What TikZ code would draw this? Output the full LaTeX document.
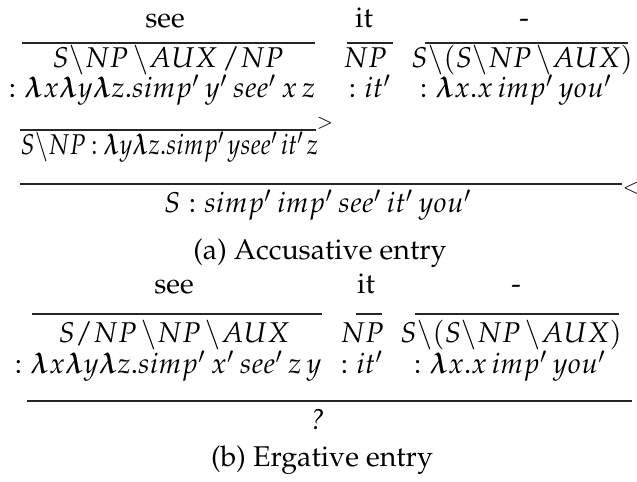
\documentclass[tikz,border=0pt]{standalone}
\usepackage[T1]{fontenc}
\usepackage{mathpazo}
\usepackage{bm}
\begin{document}
\begin{tikzpicture}[x=0.35pt,y=-0.35pt,
  txt/.style={inner sep=0pt, anchor=base, font=\normalsize},
  rulel/.style={line width=0.45pt, draw=black!85},
  comb/.style={inner sep=0pt, font=\scriptsize}]
\useasboundingbox (0,0) rectangle (637,482);
% ---------- (a) ----------
\node[txt] (aw1) at (165,28) {see};
\node[txt] (aw2) at (364,28) {it};
\node[txt] (aw3) at (524,28) {-};
\coordinate (a1l) at (22,43); \coordinate (a1r) at (315,43);
\coordinate (a2l) at (347,43); \coordinate (a2r) at (393,43);
\coordinate (a3l) at (425,43); \coordinate (a3r) at (628,43);
\draw[rulel] (a1l) -- (a1r); \draw[rulel] (a2l) -- (a2r); \draw[rulel] (a3l) -- (a3r);
\node[txt] (ac1) at (168,68) {$S\backslash NP\,\backslash AUX\,/NP$};
\node[txt] (ac2) at (365,68) {$NP$};
\node[txt] (ac3) at (522,68) {$S\backslash(S\backslash NP\,\backslash AUX)$};
\node[txt] (as1) at (162,98) {$:\bm{\lambda} x\bm{\lambda} y\bm{\lambda} z.simp'\,y'\,see'\,x\,z$};
\node[txt] (as2) at (370,98) {$:it'$};
\node[txt] (as3) at (516,98) {$:\bm{\lambda} x.x\,imp'\,you'$};
\coordinate (a4l) at (20,130); \coordinate (a4r) at (316,130);
\draw[rulel] (a4l) -- (a4r);
\node[comb, anchor=south west] (agt) at (a4r) {$>$};
\node[txt, anchor=base west, transform shape, xscale=0.86] (ar1) at (20,155) {$S\backslash NP\mskip 4mu{:}\mskip 4mu\bm{\lambda} y\bm{\lambda} z.simp'\mskip2mu y see'\mskip2mu it'\mskip2mu z$};
\coordinate (a5l) at (20,184); \coordinate (a5r) at (622,184);
\draw[rulel] (a5l) -- (a5r);
\node[comb, anchor=west] (alt) at ([yshift=-1.5pt]a5r) {$<$};
\node[txt] (ar2) at (318,213) {$S : simp'\,imp'\,see'\,it'\,you'$};
\node[txt] (capa) at (320,260) {(a) Accusative entry};
% ---------- (b) ----------
\node[txt] (bw1) at (174,294) {see};
\node[txt] (bw2) at (366,294) {it};
\node[txt] (bw3) at (516,294) {-};
\coordinate (b1l) at (32,314); \coordinate (b1r) at (322,314);
\coordinate (b2l) at (356,314); \coordinate (b2r) at (382,314);
\coordinate (b3l) at (415,314); \coordinate (b3r) at (619,314);
\draw[rulel] (b1l) -- (b1r); \draw[rulel] (b2l) -- (b2r); \draw[rulel] (b3l) -- (b3r);
\node[txt] (bc1) at (174,343) {$S/NP\,\backslash NP\,\backslash AUX$};
\node[txt] (bc2) at (362,343) {$NP$};
\node[txt] (bc3) at (511,343) {$S\backslash(S\backslash NP\,\backslash AUX)$};
\node[txt] (bs1) at (168,374) {$:\bm{\lambda} x\bm{\lambda} y\bm{\lambda} z.simp'\,x'\,see'\,z\,y$};
\node[txt] (bs2) at (362,374) {$:it'$};
\node[txt] (bs3) at (510,374) {$:\bm{\lambda} x.x\,imp'\,you'$};
\coordinate (b4l) at (27,401); \coordinate (b4r) at (632,401);
\draw[rulel] (b4l) -- (b4r);
\node[txt] (br1) at (318,430) {\textit{?}};
\node[txt] (capb) at (322,467) {(b) Ergative entry};
\end{tikzpicture}
\end{document}
